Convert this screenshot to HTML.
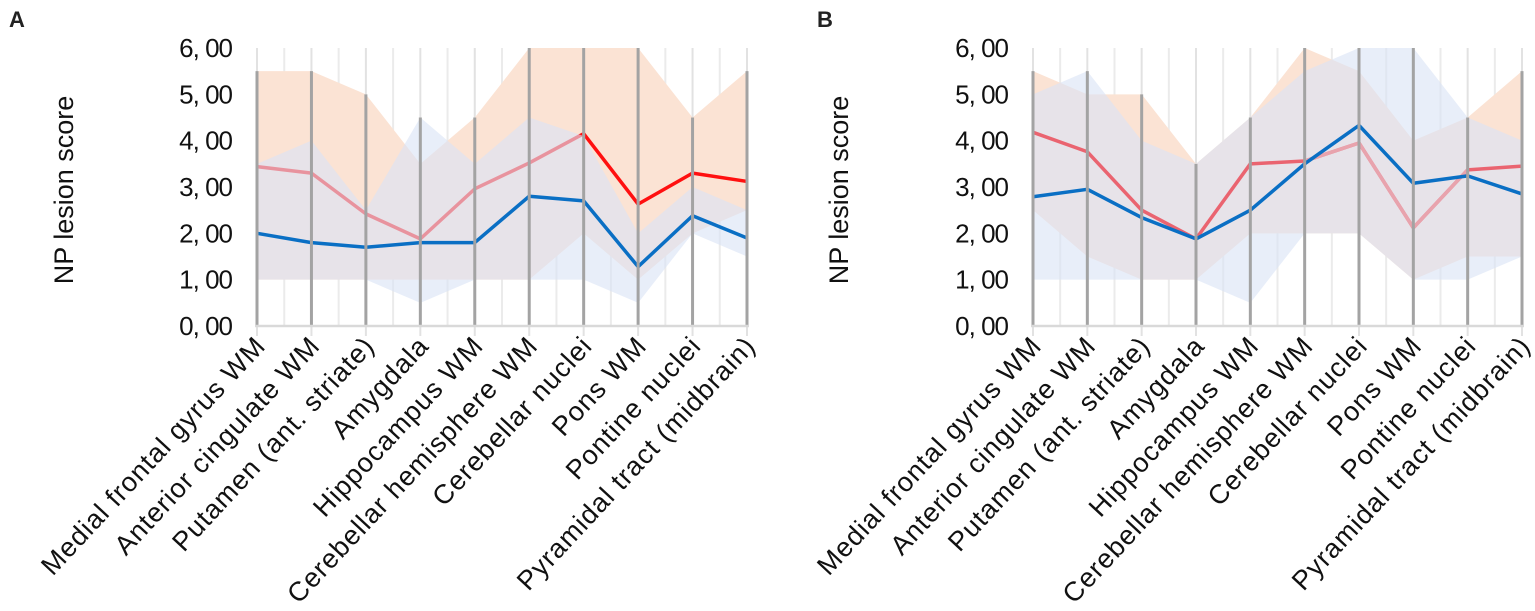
<!DOCTYPE html>
<html><head><meta charset="utf-8">
<style>
html,body{margin:0;padding:0;background:#fff;}
svg{display:block;font-family:"Liberation Sans",sans-serif;}
</style></head>
<body>
<svg id="chart" width="1535" height="611" viewBox="0 0 1535 611" xmlns="http://www.w3.org/2000/svg"></svg>
<script>
const categories = ["Medial frontal gyrus WM","Anterior cingulate WM","Putamen (ant. striate)","Amygdala","Hippocampus WM","Cerebellar hemisphere WM","Cerebellar nuclei","Pons WM","Pontine nuclei","Pyramidal tract (midbrain)"];
const yTicks = [0,1,2,3,4,5,6];
const yTickLabels = ["0, 00","1, 00","2, 00","3, 00","4, 00","5, 00","6, 00"];
// Panel A
const aRed = [3.44,3.3,2.42,1.88,2.96,3.52,4.15,2.63,3.3,3.12];
const aBlue = [2.0,1.8,1.7,1.8,1.8,2.8,2.7,1.28,2.38,1.9];
const aOrangeHi = [5.5,5.5,5.0,3.5,4.5,6.0,6.0,6.0,4.5,5.5];
const aOrangeLo = [1.0,1.0,1.0,1.0,1.0,1.0,2.0,1.0,2.0,2.5];
const aBlueHi = [3.5,4.0,2.5,4.5,3.5,4.5,4.1,2.0,3.0,2.5];
const aBlueLo = [1.0,1.0,1.0,0.5,1.0,1.0,1.0,0.5,2.0,1.5];
// Panel B
const bRed = [4.18,3.76,2.5,1.88,3.5,3.56,3.95,2.12,3.37,3.45];
const bBlue = [2.79,2.95,2.34,1.88,2.5,3.5,4.33,3.08,3.24,2.85];
const bOrangeHi = [5.5,5.0,5.0,3.5,4.5,6.0,5.5,4.0,4.5,5.5];
const bOrangeLo = [2.5,1.5,1.0,1.0,2.0,2.0,2.0,1.0,1.5,1.5];
const bBlueHi = [5.0,5.5,4.0,3.5,4.5,5.5,6.0,6.0,4.5,4.0];
const bBlueLo = [1.0,1.0,1.0,1.0,0.5,2.0,2.0,1.0,1.0,1.5];

const NS = "http://www.w3.org/2000/svg";
const svg = document.getElementById('chart');
function mk(tag, attrs, parent){
  const e = document.createElementNS(NS, tag);
  for (const k in attrs) e.setAttribute(k, attrs[k]);
  (parent||svg).appendChild(e);
  return e;
}
const Y0 = 326, Y6 = 48;
function yS(v){ return Y0 - (Y0 - Y6) * v / 6; }

function panel(id, label, x0, x9, labelX, axisTitleX, red, blue, oHi, oLo, bHi, bLo, redOnTop){
  const g = mk('g', {});
  
  
  const step = (x9 - x0) / (categories.length - 1);
  const xS = i => x0 + i * step;
  const pl = mk('text', {x: labelX, y: 27, 'font-size': 22, 'font-weight': 'bold', fill: '#222'}, g);
  pl.textContent = label;
  
  
  for (let i = 0; i < categories.length - 1; i++) {
    const l = mk('line', {x1: xS(i + 0.5), x2: xS(i + 0.5), y1: Y6, y2: Y0, stroke: '#ebebeb', 'stroke-width': 2}, g);
    
    
  }
  for (let i = 0; i < categories.length; i++) {
    const l = mk('line', {x1: xS(i), x2: xS(i), y1: Y6, y2: Y0 + 10, stroke: '#e2e2e2', 'stroke-width': 2}, g);
    
    
  }
  const band = (hi, lo) => hi.map((v, i) => xS(i) + ',' + yS(v)).join(' ') + ' ' +
    lo.map((v, i) => xS(i) + ',' + yS(v)).reverse().join(' ');
  const ob = mk('polygon', {points: band(oHi, oLo), fill: '#fbe3d4'}, g);
  
  
  const redPts = red.map((v, i) => xS(i) + ',' + yS(v)).join(' ');
  if (!redOnTop) {
    const rl = mk('polyline', {points: redPts, fill: 'none', stroke: '#ff1010', 'stroke-width': 3.5, 'stroke-linejoin': 'round'}, g);
    
    
  }
  const bb = mk('polygon', {points: band(bHi, bLo), fill: 'rgb(218,228,246)', 'fill-opacity': 0.62}, g);
  
  
  if (redOnTop) {
    const rl = mk('polyline', {points: redPts, fill: 'none', stroke: '#ea6470', 'stroke-width': 3.5, 'stroke-linejoin': 'round'}, g);
    
    
    // faded section (cerebellar hemisphere to pontine nuclei)
    const fadedPts = red.map((v, i) => [i, v]).filter(p => p[0] >= 5 && p[0] <= 8).map(p => xS(p[0]) + ',' + yS(p[1])).join(' ');
    const fl = mk('polyline', {points: fadedPts, fill: 'none', stroke: '#e8a3ad', 'stroke-width': 3.5, 'stroke-linejoin': 'round'}, g);
    
    
  }
  const bl = mk('polyline', {points: blue.map((v, i) => xS(i) + ',' + yS(v)).join(' '), fill: 'none', stroke: '#0a6fc4', 'stroke-width': 3.5, 'stroke-linejoin': 'round'}, g);
  
  
  for (let i = 0; i < categories.length; i++) {
    const top = Math.max(oHi[i], bHi[i]);
    const l = mk('line', {x1: xS(i), x2: xS(i), y1: yS(top), y2: Y0, stroke: '#a3a3a3', 'stroke-width': 3}, g);
    
    
  }
  const ax = mk('line', {x1: x0 - 2, x2: x9 + 2, y1: Y0, y2: Y0, stroke: '#d9d9d9', 'stroke-width': 2.5}, g);
  
  
  yTicks.forEach((t, i) => {
    const tx = mk('text', {x: x0 - 25, y: yS(t) + 9, 'font-size': 26, 'text-anchor': 'end', fill: '#111', 'letter-spacing': '-1'}, g);
    tx.textContent = yTickLabels[i];
    
    
  });
  const at = mk('text', {x: 0, y: 0, 'font-size': 27, 'text-anchor': 'middle', fill: '#111', transform: 'translate(' + (axisTitleX + 10) + ',190) rotate(-90)'}, g);
  at.textContent = 'NP lesion score';
  
  
  categories.forEach((c, i) => {
    const tx = mk('text', {x: 0, y: 0, 'font-size': 27, 'text-anchor': 'end', fill: '#111', 'letter-spacing': '1', transform: 'translate(' + (xS(i) + 10) + ',347) rotate(-47)'}, g);
    tx.textContent = c;
    
    
  });
}
panel('a', 'A', 257, 747, 9, 63, aRed, aBlue, aOrangeHi, aOrangeLo, aBlueHi, aBlueLo, false);
panel('b', 'B', 1033, 1522, 817, 838, bRed, bBlue, bOrangeHi, bOrangeLo, bBlueHi, bBlueLo, true);
</script>
</body></html>
